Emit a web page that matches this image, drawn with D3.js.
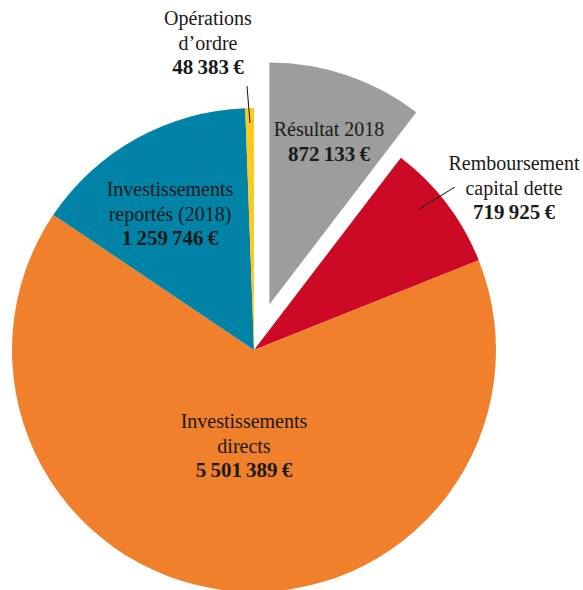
<!DOCTYPE html>
<html>
<head>
<meta charset="utf-8">
<script src="https://cdnjs.cloudflare.com/ajax/libs/d3/7.8.5/d3.min.js"></script>
<style>
  body { margin: 0; background: #fff; }
  text { font-family: "Liberation Serif", "Times New Roman", serif; fill: #1a1a1a; }
</style>
</head>
<body>
<div id="chart"></div>
<script>
// Data
const names = ["Résultat 2018", "Remboursement capital dette", "Investissements directs", "Investissements reportés (2018)", "Opérations d’ordre"];
const values = [872133, 719925, 5501389, 1259746, 48383];
const colors = ["#9d9d9c", "#cc0a25", "#f0802c", "#0083a7", "#fdc91f"];

// label lines (layout only)
const labelLines = [
  ["Résultat 2018"],
  ["Remboursement", "capital dette"],
  ["Investissements", "directs"],
  ["Investissements", "reportés (2018)"],
  ["Opérations", "d’ordre"]
];
const labelPos = [[329, 136], [514, 170], [244, 428], [170, 196], [208, 25]];

const width = 583, height = 590;
const cx = 254, cy = 350, radius = 242;
const explode = 48;
const lineH = 24.5;

// thin spaces between groups, as in the print version
const fmt = d3.formatLocale({ decimal: ",", thousands: "\u2009", grouping: [3], currency: ["", "\u2009€"] }).format("$,");

const svg = d3.select("#chart")
  .append("svg")
  .attr("width", width)
  .attr("height", height);

const g = svg.append("g")
  .attr("transform", `translate(${cx},${cy})`);

const pie = d3.pie().sort(null).value(d => d)(values);
const arc = d3.arc().innerRadius(0).outerRadius(radius);

g.selectAll("path")
  .data(pie)
  .enter()
  .append("path")
  .attr("d", arc)
  .attr("fill", (d, i) => colors[i])
  .attr("transform", (d, i) => {
    if (i !== 0) return null;
    const a = (d.startAngle + d.endAngle) / 2;
    return `translate(${Math.sin(a) * explode},${-Math.cos(a) * explode})`;
  });

// leader lines
svg.append("line")
  .attr("x1", 247).attr("y1", 86).attr("x2", 250).attr("y2", 123)
  .attr("stroke", "#111").attr("stroke-width", 1);
svg.append("line")
  .attr("x1", 455).attr("y1", 187).attr("x2", 419).attr("y2", 209)
  .attr("stroke", "#111").attr("stroke-width", 1);

// labels
const labels = svg.selectAll("text.lbl")
  .data(pie)
  .enter()
  .append("text")
  .attr("class", "lbl")
  .attr("text-anchor", "middle")
  .attr("x", (d, i) => labelPos[i][0])
  .attr("y", (d, i) => labelPos[i][1])
  .style("font-size", "20px");

labels.each(function(d, i) {
  const t = d3.select(this);
  labelLines[i].forEach((s, k) => {
    t.append("tspan")
      .attr("x", labelPos[i][0])
      .attr("dy", k === 0 ? 0 : lineH)
      .text(s);
  });
  t.append("tspan")
    .attr("x", labelPos[i][0])
    .attr("dy", lineH)
    .style("font-weight", "bold")
    .style("font-size", "21px")
    .text(fmt(values[i]));
});
</script>
</body>
</html>
